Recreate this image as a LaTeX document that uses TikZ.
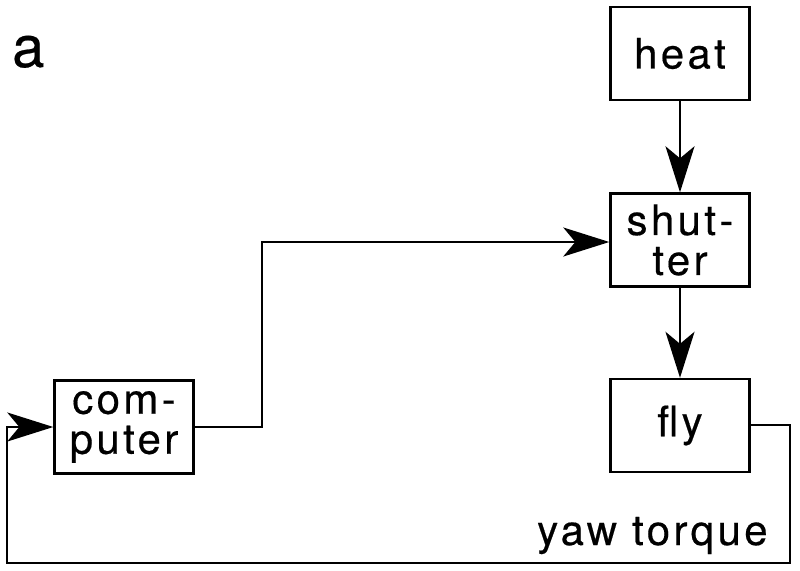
\documentclass[tikz,border=0pt]{standalone}
\usepackage{fontspec}
\setmainfont{TeX Gyre Heros}[LetterSpace=8, FakeBold=0.4]
\usetikzlibrary{arrows.meta}
\tikzset{
  blk/.style={draw, line width=2.4pt, minimum width=139pt, minimum height=93pt, inner sep=0pt, align=center},
  conn/.style={line width=2.2pt},
  arr/.style={conn, -{Stealth[length=46pt, width=29pt, inset=12pt]}},
}
\begin{document}
\begin{tikzpicture}[x=1pt, y=-1pt]
\useasboundingbox (0,0) rectangle (800,570);
\node[font=\fontsize{58}{58}\selectfont, anchor=base west, inner sep=0pt] (lbl) at (12,67) {a};
\node[blk, font=\fontsize{42}{40}\selectfont] (heat) at (680,53.5) {heat};
\node[blk, font=\fontsize{42}{40}\selectfont] (shutter) at (680,240) {shut-\\ter};
\node[blk, font=\fontsize{42}{40}\selectfont] (fly) at (680,425.5) {fly};
\node[blk, font=\fontsize{42}{40}\selectfont] (computer) at (124,427) {com-\\puter};
\node[font=\fontsize{42}{42}\selectfont, anchor=base west, inner sep=0pt] (yaw) at (537,545) {yaw torque};
\coordinate (c1) at (262,242);
\coordinate (f1) at (790,425);
\coordinate (f2) at (790,563);
\coordinate (f3) at (7,563);
\coordinate (f4) at (7,427);
\draw[arr] (heat) -- (shutter);
\draw[arr] (shutter) -- (fly);
\draw[arr] (computer.east) -- (computer.east -| c1) -- (c1) -- (c1 -| shutter.west);
\draw[arr] (fly.east |- f1) -- (f1) -- (f2) -- (f3) -- (f4) -- (f4 -| computer.west);
\end{tikzpicture}
\end{document}
